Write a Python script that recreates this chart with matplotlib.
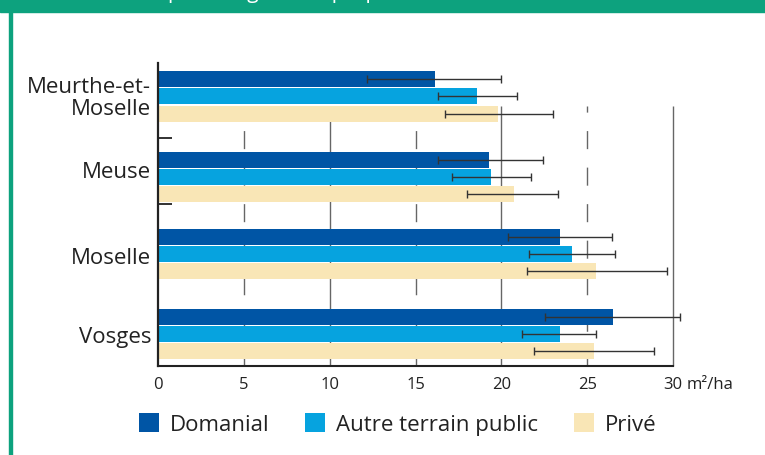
import numpy as np
import matplotlib
matplotlib.use("Agg")
import matplotlib.pyplot as plt
from matplotlib.patches import Rectangle

plt.rcParams['font.family'] = ['Open Sans', 'DejaVu Sans']
plt.rcParams['lines.scale_dashes'] = False

# ---- data ----
categories = ["Meurthe-et-\nMoselle", "Meuse", "Moselle", "Vosges"]
series_names = ["Domanial", "Autre terrain public", "Privé"]

domanial = [16.15, 19.27, 23.44, 26.53]
domanial_lo = [12.2, 16.31, 20.38, 22.52]
domanial_hi = [19.99, 22.42, 26.43, 30.41]

autre = [18.6, 19.42, 24.14, 23.44]
autre_lo = [16.29, 17.1, 21.6, 21.19]
autre_hi = [20.9, 21.7, 26.61, 25.53]

prive = [19.82, 20.76, 25.53, 25.42]
prive_lo = [16.72, 18.0, 21.5, 21.93]
prive_hi = [23.03, 23.32, 29.63, 28.92]

x_ticks = [0, 5, 10, 15, 20, 25, 30]
x_unit = "m²/ha"
title_text = "par catégorie de propriété"

# ---- style / layout ----
colors = ["#0055A5", "#06A3DF", "#F9E6B6"]
green = "#0DA27E"
W, H = 765, 456

fig = plt.figure(figsize=(W / 100, H / 100), dpi=100)
ax = fig.add_axes([158 / W, 1 - 367 / H, (673 - 158) / W, (367 - 64) / H])

group_centers = np.array([1.886, 6.51, 10.91, 15.48])
offsets = [-0.98, 0.0, 1.0]
bar_h = 0.914

all_vals = [domanial, autre, prive]
all_lo = [domanial_lo, autre_lo, prive_lo]
all_hi = [domanial_hi, autre_hi, prive_hi]

handles = []
for vals, lo, hi, off, col, name in zip(all_vals, all_lo, all_hi, offsets, colors, series_names):
    v = np.array(vals)
    y = group_centers + off
    b = ax.barh(y, v, height=bar_h, color=col, zorder=2, label=name)
    handles.append(b)
    xerr = np.vstack([v - np.array(lo), np.array(hi) - v])
    eb = ax.errorbar(v, y, xerr=xerr, fmt='none', ecolor='#333333', elinewidth=1.0,
                     capsize=3, capthick=1.0, zorder=3)
    for art in eb.lines[1]:
        art.set_clip_on(False)
    for art in eb.lines[2]:
        art.set_clip_on(False)

ax.set_xlim(0, 30)
ax.set_ylim(17.31, 0)

# grid lines (solid at tens, dashed at fives)
grid_top = 2.457
for xv in x_ticks[1:]:
    if xv % 10 == 0:
        ax.plot([xv, xv], [grid_top, 17.31], color='#666666', lw=1.0, zorder=1,
                solid_capstyle='butt', clip_on=False)
    else:
        ax.plot([xv, xv], [grid_top, 17.31], color='#666666', lw=1.0, zorder=1,
                linestyle=(8.6, (13.0, 13.3)), dash_capstyle='butt')

# spines
for s in ['top', 'right']:
    ax.spines[s].set_visible(False)
ax.spines['left'].set_linewidth(1.6)
ax.spines['left'].set_color('#222222')
ax.spines['bottom'].set_linewidth(1.5)
ax.spines['bottom'].set_color('#222222')
ax.spines['bottom'].set_zorder(4)

# y ticks (inward marks) and category labels
ax.set_yticks([4.29, 8.04])
ax.set_yticklabels([])
ax.tick_params(axis='y', direction='in', length=10, width=1.3, color='#222222')

label_dy = [1.03, 0.02, 0.52, 0.48]
for gc, lab, dy in zip(group_centers, categories, label_dy):
    ax.text(-0.4, gc + dy, lab, ha='right', va='baseline', fontsize=16,
            color='#222222', linespacing=1.05, transform=ax.transData)

ax.set_xticks(x_ticks)
ax.set_xticklabels([str(t) for t in x_ticks], fontsize=12, color='#222222')
ax.tick_params(axis='x', length=0, pad=7.5)
ax.annotate(x_unit, xy=(30, 0), xycoords=('data', 'axes fraction'),
            xytext=(10, -7.5), textcoords='offset points', ha='left', va='top',
            fontsize=12, color='#222222', annotation_clip=False)

# legend
leg = ax.legend(handles, series_names, loc='center left',
                bbox_to_anchor=(139 / W, 1 - 425 / H), bbox_transform=fig.transFigure,
                ncol=3, frameon=False, fontsize=16, handlelength=0.9, handleheight=0.9,
                handletextpad=0.5, columnspacing=1.6, borderpad=0, borderaxespad=0)
for t in leg.get_texts():
    t.set_color('#222222')

# frame decoration
fig.patches.append(Rectangle((0, 1 - 13 / H), 1, 13 / H, transform=fig.transFigure,
                             color=green, zorder=1))
fig.patches.append(Rectangle((9 / W, 0), 2.7 / W, 1 - 13 / H, transform=fig.transFigure,
                             color=green, zorder=1))
fig.text(168 / W, 1 + 1.7 / H, title_text, color='white', fontsize=15,
         ha='left', va='baseline', zorder=5)

fig.savefig("out.png", dpi=100)
